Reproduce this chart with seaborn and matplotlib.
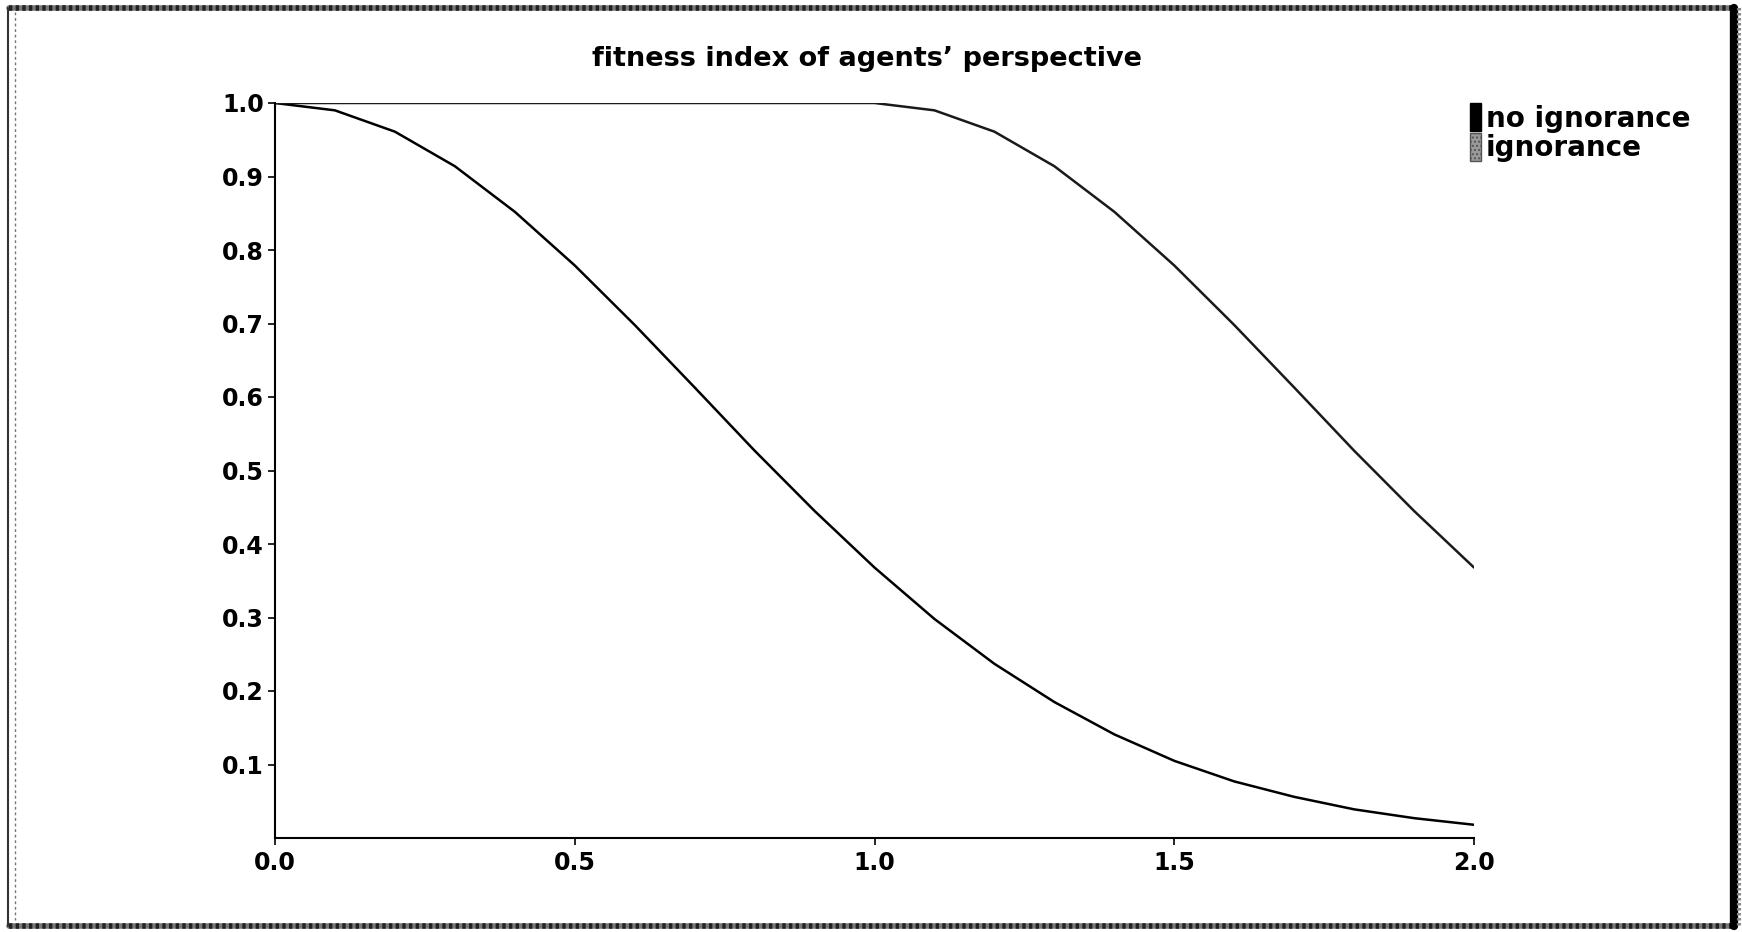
import matplotlib
matplotlib.use("Agg")
import matplotlib.pyplot as plt
import seaborn as sns
import pandas as pd
from matplotlib.patches import Patch
from matplotlib.lines import Line2D

# ---- data ----
x_values = [0.0, 0.1, 0.2, 0.3, 0.4, 0.5, 0.6, 0.7, 0.8, 0.9, 1.0,
            1.1, 1.2, 1.3, 1.4, 1.5, 1.6, 1.7, 1.8, 1.9, 2.0]
no_ignorance = [1.0, 0.990, 0.961, 0.914, 0.852, 0.779, 0.698, 0.613, 0.527, 0.445, 0.368,
                0.298, 0.237, 0.185, 0.141, 0.105, 0.077, 0.056, 0.039, 0.027, 0.018]
ignorance = [1.0, 1.0, 1.0, 1.0, 1.0, 1.0, 1.0, 1.0, 1.0, 1.0, 1.0,
             0.990, 0.961, 0.914, 0.852, 0.779, 0.698, 0.613, 0.527, 0.445, 0.368]
series_names = ["no ignorance", "ignorance"]
title_text = "fitness index of agents\u2019 perspective"
x_ticks = [0.0, 0.5, 1.0, 1.5, 2.0]
y_ticks = [0.1, 0.2, 0.3, 0.4, 0.5, 0.6, 0.7, 0.8, 0.9, 1.0]

df = pd.DataFrame({
    "x": x_values * 2,
    "y": no_ignorance + ignorance,
    "series": [series_names[0]] * len(x_values) + [series_names[1]] * len(x_values),
})

sns.set_theme(style="white")
plt.rcParams["font.family"] = ["DejaVu Sans"]
plt.rcParams["font.weight"] = "bold"

W, H = 1742, 932
fig = plt.figure(figsize=(W / 100, H / 100), dpi=100)
fig.patch.set_facecolor("white")
ax = fig.add_axes([275 / W, 1 - 838 / H, (1474 - 275) / W, (838 - 103) / H])

sns.lineplot(data=df, x="x", y="y", hue="series",
             palette={series_names[0]: "#000000", series_names[1]: "#1a1a1a"},
             linewidth=1.8, ax=ax, legend=False, sort=False)

ax.set_xlim(0, 2.0)
ax.set_ylim(0, 1.0)
ax.set_xticks(x_ticks)
ax.set_xticklabels([f"{v:.1f}" for v in x_ticks], fontsize=17, fontweight="bold")
ax.set_yticks(y_ticks)
ax.set_yticklabels([f"{v:.1f}" for v in y_ticks], fontsize=17, fontweight="bold")
ax.set_xlabel("")
ax.set_ylabel("")
for s in ["top", "right"]:
    ax.spines[s].set_visible(False)
for s in ["left", "bottom"]:
    ax.spines[s].set_color("black")
    ax.spines[s].set_linewidth(1.5)
ax.tick_params(axis="both", direction="out", length=5, width=1.2, color="black",
               left=True, bottom=True, labelcolor="black")
ax.tick_params(axis="y", pad=3)
ax.tick_params(axis="x", pad=4)
ax.grid(False)

fig.text(867 / W, 1 - 59 / H, title_text, ha="center", va="center",
         fontsize=19.5, fontweight="bold", color="black")

handles = [
    Patch(facecolor="black", edgecolor="black", label=series_names[0]),
    Patch(facecolor="#9a9a9a", edgecolor="#555555", hatch="....", label=series_names[1]),
]
fig.legend(handles=handles, loc="upper left", bbox_to_anchor=(1470 / W, 1 - 103 / H),
           frameon=False, handlelength=0.38, handleheight=1.2,
           handletextpad=0.2, labelspacing=0.0, borderaxespad=0, borderpad=0,
           prop={"weight": "bold", "size": 20}, labelcolor="black")

# outer scan frame
def fig_line(x0, y0, x1, y1, lw, color, ls="-"):
    fig.add_artist(Line2D([x0 / W, x1 / W], [1 - y0 / H, 1 - y1 / H],
                          transform=fig.transFigure, lw=lw, color=color, ls=ls))

fig_line(9, 8, 1733, 8, 4, "#777777")
fig_line(9, 8, 1733, 8, 4, "#222222", (0, (0.6, 0.6)))
fig_line(9, 926, 1733, 926, 4, "#777777")
fig_line(9, 926, 1733, 926, 4, "#222222", (0, (0.6, 0.6)))
fig_line(8, 8, 8, 926, 1.5, "#333333")
fig_line(15, 12, 15, 920, 1.0, "#777777", (0, (2, 2)))
fig_line(1734, 8, 1734, 926, 6, "#000000")
fig_line(1739, 8, 1739, 926, 3, "#888888", (0, (0.6, 0.6)))

fig.savefig("out.png", dpi=100, facecolor="white")
